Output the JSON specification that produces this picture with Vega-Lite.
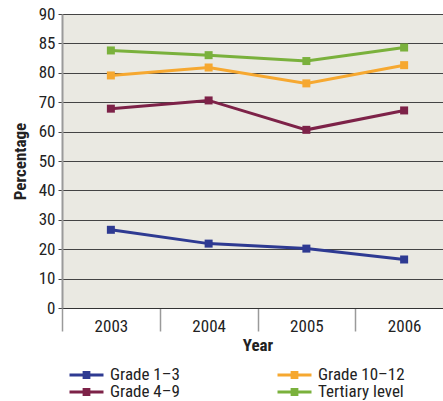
{
  "$schema": "https://vega.github.io/schema/vega-lite/v6.json",
  "width": 381,
  "height": 294,
  "autosize": {"type": "none"},
  "padding": {"left": 62, "top": 14, "right": 0, "bottom": 93},
  "background": "white",
  "config": {
    "view": {"fill": "#eae9e2", "stroke": null},
    "font": "'Liberation Sans Narrow', 'Roboto Condensed', 'DejaVu Sans Condensed', sans-serif"
  },
  "data": {
    "values": [
      {"series": "Grade 1–3", "year": "2003", "pct": 26.6},
      {"series": "Grade 1–3", "year": "2004", "pct": 21.9},
      {"series": "Grade 1–3", "year": "2005", "pct": 20.2},
      {"series": "Grade 1–3", "year": "2006", "pct": 16.5},
      {"series": "Grade 4–9", "year": "2003", "pct": 67.8},
      {"series": "Grade 4–9", "year": "2004", "pct": 70.6},
      {"series": "Grade 4–9", "year": "2005", "pct": 60.6},
      {"series": "Grade 4–9", "year": "2006", "pct": 67.2},
      {"series": "Grade 10–12", "year": "2003", "pct": 79.1},
      {"series": "Grade 10–12", "year": "2004", "pct": 80.9},
      {"series": "Grade 10–12", "year": "2005", "pct": 76.4},
      {"series": "Grade 10–12", "year": "2006", "pct": 81.3},
      {"series": "Tertiary level", "year": "2003", "pct": 83.8},
      {"series": "Tertiary level", "year": "2004", "pct": 83.0},
      {"series": "Tertiary level", "year": "2005", "pct": 82.0},
      {"series": "Tertiary level", "year": "2006", "pct": 84.3}
    ]
  },
  "encoding": {
    "x": {
      "field": "year",
      "type": "ordinal",
      "scale": {"type": "band", "range": [0, 391], "paddingInner": 0, "paddingOuter": 0},
      "axis": {
        "tickBand": "extent",
        "tickSize": 23,
        "tickColor": "#9a9a9a",
        "tickWidth": 1.5,
        "labelPadding": -13,
        "labelAngle": 0,
        "labelFontSize": 17,
        "labelColor": "#222",
        "domainColor": "#333",
        "domainWidth": 1,
        "grid": false,
        "title": "Year",
        "titleFontSize": 17,
        "titleFontWeight": "bold",
        "titleColor": "#222",
        "titlePadding": 3
      }
    },
    "y": {
      "field": "pct",
      "type": "quantitative",
      "scale": {"domain": [0, 70, 80, 85, 90], "range": [294, 88.2, 58.8, 29.4, 0], "nice": false, "zero": false},
      "axis": {
        "values": [0, 10, 20, 30, 40, 50, 60, 70, 80, 85, 90],
        "grid": true,
        "gridColor": "#444",
        "gridWidth": 1,
        "tickSize": 4,
        "tickColor": "#444",
        "labelPadding": 3,
        "labelFontSize": 17,
        "labelColor": "#222",
        "domainColor": "#9a9a9a",
        "domainWidth": 2,
        "title": "Percentage",
        "titleFontSize": 17,
        "titleFontWeight": "bold",
        "titleColor": "#222",
        "titlePadding": 9
      }
    },
    "color": {
      "field": "series",
      "type": "nominal",
      "scale": {
        "domain": ["Grade 1–3", "Grade 4–9", "Grade 10–12", "Tertiary level"],
        "range": ["#2e3a92", "#7d2248", "#f6a830", "#7ab13c"]
      },
      "legend": {
        "orient": "none",
        "direction": "horizontal",
        "legendX": 6,
        "legendY": 353,
        "columns": 2,
        "columnPadding": 96,
        "rowPadding": 0,
        "clipHeight": 16,
        "title": null,
        "values": ["Grade 1–3", "Grade 10–12", "Grade 4–9", "Tertiary level"],
        "symbolType": "M-1,0L1,0M-0.14,-0.14H0.14V0.14H-0.14Z",
        "symbolSize": 1156,
        "symbolStrokeWidth": 3,
        "labelFontSize": 17,
        "labelColor": "#222",
        "labelOffset": 5
      }
    }
  },
  "layer": [
    {"mark": {"type": "line", "strokeWidth": 3}},
    {"mark": {"type": "point", "shape": "square", "filled": true, "size": 64, "opacity": 1}}
  ]
}
